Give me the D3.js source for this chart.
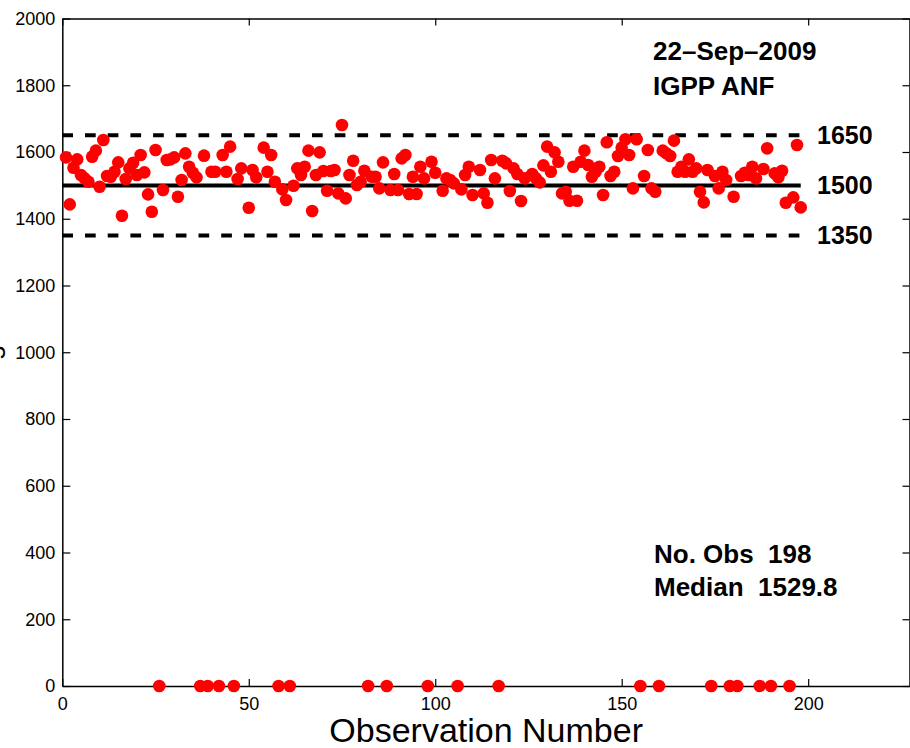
<!DOCTYPE html>
<html>
<head>
<meta charset="utf-8">
<script src="https://cdn.jsdelivr.net/npm/d3@7"></script>
<style>
  html, body { margin: 0; padding: 0; background: #fff; }
  svg { display: block; font-family: "Liberation Sans", Helvetica, Arial, sans-serif; }
  .axis path, .axis line { stroke: #000; }
  .axis text { font-size: 18px; fill: #000; }
</style>
</head>
<body>
<svg id="chart" width="910" height="748"></svg>
<script>
// observation numbers and readings (0 = no reading)
const obsNumber = [
  1,2,3,4,5,6,7,8,9,10,11,12,13,14,15,16,17,18,19,20,21,22,23,24,25,26,27,28,29,30,
  31,32,33,34,35,36,37,38,39,40,41,42,43,44,45,46,47,48,50,51,52,54,55,56,57,58,59,60,
  61,62,63,64,65,66,67,68,69,70,71,72,73,74,75,76,77,78,79,80,81,82,83,84,85,86,87,88,89,90,
  91,92,93,94,95,96,97,98,99,100,102,103,104,105,106,107,108,109,110,112,113,114,115,116,117,118,119,120,
  121,122,123,124,126,127,128,129,130,131,132,133,134,135,136,137,138,139,140,141,142,143,144,145,146,147,148,149,150,
  151,152,153,154,155,156,157,158,159,160,161,162,163,164,165,166,167,168,169,170,171,172,173,174,175,176,177,178,179,180,
  181,182,183,184,185,186,187,188,189,190,191,192,193,194,195,196,197,198
];
const reading = [
  1584,1443,1553,1578,1531,1521,1511,1586,1604,1496,1636,1528,1526,1541,1569,1409,1519,1551,1568,1531,1591,1539,1473,1421,1606,0,1486,1576,1578,1584,
  1466,1516,1596,1556,1538,1524,0,1589,0,1541,1541,0,1591,1541,1616,0,1519,1551,1433,1546,1524,1613,1541,1591,1511,0,1488,1456,
  0,1499,1551,1531,1556,1604,1423,1531,1599,1543,1484,1543,1546,1476,1681,1461,1531,1574,1501,1511,1544,0,1526,1526,1491,1569,0,1486,1534,1486,
  1581,1591,1474,1526,1474,1556,1521,0,1571,1538,1484,1521,1516,1506,0,1488,1531,1556,1471,1546,1476,1448,1576,1521,0,1574,1566,1483,
  1551,1534,1453,1521,1534,1521,1509,1560,1616,1541,1599,1571,1476,1481,1454,1556,1454,1571,1604,1561,1526,1541,1556,1471,1629,1528,1541,1588,1613,
  1638,1591,1491,1638,0,1528,1606,1491,1481,0,1604,1596,1588,1634,1541,1556,1541,1578,1541,1551,1481,1449,1546,0,1528,1491,1541,1516,0,1466,
  0,1528,1538,1531,1556,1521,0,1549,1611,0,1536,1524,1544,1448,0,1464,1621,1434
];

const refLevels = [1650, 1500, 1350];
const refStyles = ['dashed', 'solid', 'dashed'];
const xTicks = [0, 50, 100, 150, 200];
const yTicks = [0, 200, 400, 600, 800, 1000, 1200, 1400, 1600, 1800, 2000];
const stampLines = ['22\u2013Sep\u20132009', 'IGPP ANF'];
const statLines = ['No. Obs\u00a0\u00a0198', 'Median\u00a0\u00a01529.8'];

const svg = d3.select('svg#chart'),
  plotLeft = 62.3, plotRight = 910, plotTop = 18.5, plotBottom = 686;

const x = d3.scaleLinear().domain([0, 227.3]).range([plotLeft, plotRight]);
const y = d3.scaleLinear().domain([0, 2000]).range([plotBottom, plotTop]);

const points = obsNumber.map((n, i) => ({ n, v: reading[i] }));

// axes, MATLAB style box with inward ticks
svg.append('g').attr('class', 'axis')
  .attr('transform', `translate(0,${plotBottom})`)
  .call(d3.axisBottom(x).tickValues(xTicks).tickSizeInner(-7).tickSizeOuter(0).tickPadding(11));
svg.append('g').attr('class', 'axis')
  .attr('transform', `translate(${plotLeft},0)`)
  .call(d3.axisLeft(y).tickValues(yTicks).tickFormat(d3.format('d'))
    .tickSizeInner(-8).tickSizeOuter(0).tickPadding(7));
svg.append('g').attr('class', 'axis')
  .attr('transform', `translate(0,${plotTop})`)
  .call(d3.axisTop(x).tickValues(xTicks).tickSizeInner(-7).tickSizeOuter(0).tickFormat(''));
svg.append('g').attr('class', 'axis')
  .attr('transform', `translate(${plotRight - 0.5},0)`)
  .call(d3.axisRight(y).tickValues(yTicks).tickSizeInner(-7).tickSizeOuter(0).tickFormat(''));

svg.selectAll('.axis path').attr('stroke-width', 1.5);
svg.selectAll('.axis line').attr('stroke-width', 1.2);
svg.selectAll('.axis text').attr('font-family', null).attr('font-size', null);

// reference lines
svg.selectAll('line.ref').data(refLevels).enter()
  .append('line')
    .attr('class', 'ref')
    .attr('x1', x(0))
    .attr('x2', x(198))
    .attr('y1', d => y(d))
    .attr('y2', d => y(d))
    .attr('stroke', '#000')
    .attr('stroke-width', 4)
    .attr('stroke-dasharray', (d, i) => refStyles[i] == 'dashed' ? '10.7,12' : null);

svg.selectAll('text.ref').data(refLevels).enter()
  .append('text')
    .attr('class', 'ref')
    .attr('x', 817)
    .attr('y', d => y(d) + 9)
    .attr('font-size', 25)
    .attr('font-weight', 'bold')
    .text(d => d);

// observations
svg.append('g').selectAll('circle').data(points).enter()
  .append('circle')
    .attr('cx', d => x(d.n))
    .attr('cy', d => y(d.v))
    .attr('r', 6.3)
    .attr('fill', '#ff0000');

// annotations
svg.selectAll('text.stamp').data(stampLines).enter()
  .append('text')
    .attr('class', 'stamp')
    .attr('x', 653)
    .attr('y', (d, i) => 60 + i * 35)
    .attr('font-size', 26)
    .attr('font-weight', 'bold')
    .text(d => d);

svg.selectAll('text.stat').data(statLines).enter()
  .append('text')
    .attr('class', 'stat')
    .attr('x', 654)
    .attr('y', (d, i) => 563 + i * 33)
    .attr('font-size', 26)
    .attr('font-weight', 'bold')
    .text(d => d);

// axis titles
svg.append('text')
  .attr('x', (plotLeft + plotRight) / 2)
  .attr('y', 742)
  .attr('text-anchor', 'middle')
  .attr('font-size', 34)
  .text('Observation Number');

// y title sits almost entirely off the left edge, as in the reference
svg.append('text')
  .attr('transform', `translate(-1,${(plotTop + plotBottom) / 2 + 18}) rotate(-90)`)
  .attr('text-anchor', 'middle')
  .attr('font-size', 28)
  .text('Range');
</script>
</body>
</html>
